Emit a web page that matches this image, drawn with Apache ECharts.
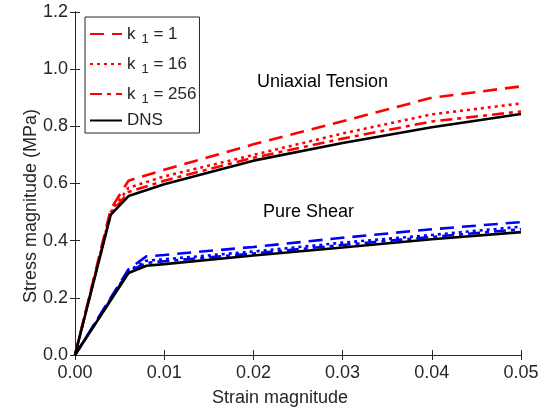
<!DOCTYPE html>
<html><head><meta charset="utf-8">
<script src="https://cdn.jsdelivr.net/npm/echarts@6/dist/echarts.min.js"></script>
<style>html,body{margin:0;padding:0;background:#fff}#c{width:544px;height:414px}</style>
</head><body><div id="c"></div>
<script>
// Uniaxial tension
const strainUT = [0, 0.004, 0.006, 0.01, 0.02, 0.03, 0.04, 0.05];
const ut_k1   = [0, 0.51, 0.61, 0.648, 0.737, 0.818, 0.90, 0.94];
const ut_k16  = [0, 0.50, 0.585, 0.625, 0.70, 0.775, 0.842, 0.88];
const ut_k256 = [0, 0.495, 0.57, 0.61, 0.69, 0.757, 0.817, 0.852];
const ut_dns  = [0, 0.49, 0.556, 0.597, 0.68, 0.742, 0.797, 0.843];
// Pure shear
const strainPS = [0, 0.006, 0.008, 0.01, 0.02, 0.03, 0.04, 0.05];
const ps_k1   = [0, 0.30, 0.345, 0.35, 0.378, 0.41, 0.44, 0.465];
const ps_k16  = [0, 0.295, 0.33, 0.335, 0.362, 0.393, 0.42, 0.449];
const ps_k256 = [0, 0.292, 0.322, 0.328, 0.355, 0.385, 0.413, 0.44];
const ps_dns  = [0, 0.287, 0.312, 0.318, 0.348, 0.376, 0.405, 0.43];
// Ticks
const xTicks = [0, 0.01, 0.02, 0.03, 0.04, 0.05];
const yTicks = [0, 0.2, 0.4, 0.6, 0.8, 1.0, 1.2];
const legendNames = ['k1 = 1', 'k1 = 16', 'k1 = 256', 'DNS'];

const FONT = 'Liberation Sans, Arial, sans-serif';
const TXT = '#262626';
const pair = (xs, ys) => xs.map((x, i) => [x, ys[i]]);
const styles = [
  {type: [14, 8]},
  {type: [3, 4]},
  {type: [12, 5, 4, 5]},
  {type: 'solid'}
];
function mk(name, xs, ys, color, st) {
  return {
    name, type: 'line', data: pair(xs, ys), symbol: 'none', smooth: false,
    xAxisIndex: 0, yAxisIndex: 0,
    lineStyle: {color, width: 2.6, type: st.type},
    itemStyle: {color}, animation: false
  };
}
const series = [
  mk(legendNames[0], strainUT, ut_k1, '#ff0000', styles[0]),
  mk(legendNames[1], strainUT, ut_k16, '#ff0000', styles[1]),
  mk(legendNames[2], strainUT, ut_k256, '#ff0000', styles[2]),
  mk(legendNames[0], strainPS, ps_k1, '#0000ff', styles[0]),
  mk(legendNames[1], strainPS, ps_k16, '#0000ff', styles[1]),
  mk(legendNames[2], strainPS, ps_k256, '#0000ff', styles[2]),
  mk(legendNames[3], strainUT, ut_dns, '#000000', styles[3]),
  mk(legendNames[3], strainPS, ps_dns, '#000000', styles[3])
];

const axisLine = {show: true, lineStyle: {color: TXT, width: 1}};
const axisTick = {show: true, inside: true, length: 5, lineStyle: {color: TXT}};
const chart = echarts.init(document.getElementById('c'));
chart.setOption({
  animation: false,
  backgroundColor: '#fff',
  grid: {left: 75, right: 23, top: 12, bottom: 59, containLabel: false},
  xAxis: [
    {type: 'value', position: 'bottom', min: xTicks[0], max: xTicks[xTicks.length-1], interval: 0.01,
     axisLine, axisTick, splitLine: {show: false},
     axisLabel: {color: TXT, fontSize: 18, fontFamily: FONT, margin: 9, formatter: v => v.toFixed(2)}},
    {type: 'value', position: 'top', min: xTicks[0], max: xTicks[xTicks.length-1], interval: 0.01,
     axisLine, axisTick, splitLine: {show: false}, axisLabel: {show: false}}
  ],
  yAxis: [
    {type: 'value', position: 'left', min: yTicks[0], max: yTicks[yTicks.length-1], interval: 0.2,
     axisLine, axisTick, splitLine: {show: false},
     axisLabel: {color: TXT, fontSize: 18, fontFamily: FONT, margin: 7, formatter: v => v.toFixed(1)}},
    {type: 'value', position: 'right', min: yTicks[0], max: yTicks[yTicks.length-1], interval: 0.2,
     axisLine, axisTick, splitLine: {show: false}, axisLabel: {show: false}}
  ],
  legend: {
    data: legendNames, orient: 'vertical', left: 85, top: 17,
    backgroundColor: '#fff', borderColor: TXT, borderWidth: 1,
    padding: [5, 3, 4, 4], itemWidth: 32, itemHeight: 14, itemGap: 6,
    itemStyle: {opacity: 0},
    textStyle: {color: TXT, fontSize: 17, fontFamily: FONT,
      rich: {a: {fontSize: 17, fontFamily: FONT, color: TXT, lineHeight: 22},
             b: {fontSize: 13, fontFamily: FONT, color: TXT, lineHeight: 22, padding: [11, 0, 0, 6]}}},
    formatter: n => n.startsWith('k1') ? '{a|k}{b|1}{a|' + n.slice(2) + '}' : '{a|' + n + '}'
  },
  graphic: [
    {type: 'text', left: 257, top: 73, style: {text: 'Uniaxial Tension', fontSize: 18, fontFamily: FONT, fill: '#000'}},
    {type: 'text', left: 263, top: 203, style: {text: 'Pure Shear', fontSize: 18, fontFamily: FONT, fill: '#000'}},
    {type: 'text', left: 212, top: 389, style: {text: 'Strain magnitude', fontSize: 18, fontFamily: FONT, fill: TXT}},
    {type: 'text', x: 22, y: 303, rotation: Math.PI / 2, style: {text: 'Stress magnitude (MPa)', fontSize: 18, fontFamily: FONT, fill: TXT, align: 'left', verticalAlign: 'top'}}
  ],
  series
});
</script></body></html>
